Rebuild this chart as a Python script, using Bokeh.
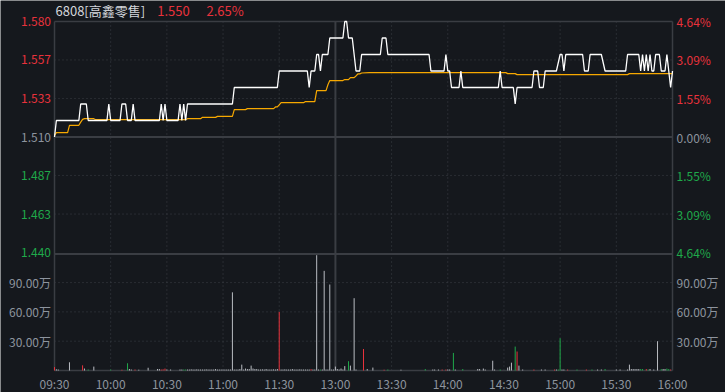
from bokeh.plotting import figure
from bokeh.models import Range1d, ColumnDataSource
from bokeh.core.properties import value
from bokeh.embed import file_html
from bokeh.resources import INLINE

# ---------------- data ----------------
stock_title = "6808[高鑫零售]"
last_price = "1.550"
last_change = "2.65%"
prev_close = 1.510

time_ticks = [0, 30, 60, 90, 120, 150, 180, 210, 240, 270, 300, 330]
time_labels = ["09:30", "10:00", "10:30", "11:00", "11:30", "13:00",
               "13:30", "14:00", "14:30", "15:00", "15:30", "16:00"]

price_ticks = [1.580, 1.5567, 1.5333, 1.510, 1.4867, 1.4633, 1.440]
price_tick_labels = ["1.580", "1.557", "1.533", "1.510", "1.487", "1.463", "1.440"]
pct_tick_labels = ["4.64%", "3.09%", "1.55%", "0.00%", "1.55%", "3.09%", "4.64%"]
tick_sides = [1, 1, 1, 0, -1, -1, -1]

vol_ticks = [90, 60, 30]
vol_tick_labels = ["90.00万", "60.00万", "30.00万"]

# minute index (0 = 09:30, 150 = 13:00) and last price
price_min = [0, 1, 13, 14, 17, 18, 28, 29, 30, 35, 36, 38, 39, 41, 42, 43, 56, 57, 58, 59, 60,
             66, 67, 68, 69, 70, 71, 95, 96, 119, 120, 135, 136, 137, 139, 140, 141, 142, 143,
             146, 147, 154, 155, 156, 157, 159, 160, 161, 163, 164, 174, 175, 177, 178, 200,
             201, 208, 209, 210, 211, 212, 216, 217, 218, 237, 238, 239, 245, 246, 247, 255,
             256, 258, 259, 261, 262, 268, 270, 271, 272, 273, 282, 283, 285, 286, 292, 294,
             305, 306, 312, 313, 314, 315, 316, 317, 318, 319, 320, 321, 323, 324, 326, 327,
             328, 329, 330]
price_val = [1.51, 1.52, 1.52, 1.53, 1.53, 1.52, 1.52, 1.53, 1.52, 1.52, 1.53, 1.53, 1.52, 1.52,
             1.53, 1.52, 1.52, 1.53, 1.52, 1.53, 1.52, 1.52, 1.53, 1.52, 1.53, 1.52, 1.53, 1.53,
             1.54, 1.54, 1.55, 1.55, 1.54, 1.55, 1.55, 1.56, 1.56, 1.55, 1.56, 1.56, 1.57, 1.57,
             1.58, 1.58, 1.57, 1.57, 1.56, 1.55, 1.55, 1.56, 1.56, 1.57, 1.57, 1.56, 1.56, 1.55,
             1.55, 1.56, 1.55, 1.55, 1.54, 1.54, 1.55, 1.54, 1.54, 1.55, 1.54, 1.54, 1.53, 1.54,
             1.54, 1.55, 1.55, 1.54, 1.54, 1.55, 1.55, 1.56, 1.56, 1.55, 1.56, 1.56, 1.55, 1.55,
             1.56, 1.56, 1.55, 1.55, 1.56, 1.56, 1.55, 1.56, 1.55, 1.56, 1.55, 1.56, 1.55, 1.55,
             1.56, 1.56, 1.55, 1.55, 1.56, 1.55, 1.54, 1.55]

# average price line
avg_min = [0, 1, 7, 8, 13, 14, 15, 16, 21, 22, 70, 71, 78, 79, 86, 87, 95, 96, 102, 103, 117,
           118, 119, 120, 121, 133, 134, 139, 140, 145, 146, 147, 154, 155, 157, 158, 160,
           161, 162, 163, 164, 168, 241, 242, 246, 247, 306, 307, 330]
avg_val = [1.5110, 1.5127, 1.5127, 1.5171, 1.5171, 1.5190, 1.5207, 1.5211, 1.5211, 1.5205,
           1.5205, 1.5211, 1.5211, 1.5219, 1.5219, 1.5225, 1.5225, 1.5266, 1.5266, 1.5272,
           1.5272, 1.5282, 1.5282, 1.5295, 1.5308, 1.5308, 1.5315, 1.5315, 1.5381, 1.5381,
           1.5417, 1.5442, 1.5442, 1.5448, 1.5448, 1.5460, 1.5460, 1.5470, 1.5482, 1.5482,
           1.5488, 1.5490, 1.5490, 1.5484, 1.5484, 1.5478, 1.5478, 1.5484, 1.5484]

# volume per minute (in 万 shares) and tick direction (1 up, -1 down, 0 flat)
vol_min = [0, 1, 2, 8, 15, 16, 18, 21, 30, 36, 39, 40, 41, 43, 45, 50, 55, 56, 57, 58, 59, 60,
           62, 67, 68, 69, 70, 71, 72, 73, 74, 75, 76, 77, 78, 79, 80, 81, 82, 83, 84, 85, 86,
           87, 88, 89, 90, 91, 92, 93, 94, 95, 96, 97, 98, 99, 100, 101, 102, 103, 104, 105,
           106, 107, 108, 109, 110, 111, 112, 113, 114, 115, 116, 117, 118, 119, 120, 121, 122,
           123, 124, 125, 126, 127, 128, 129, 130, 131, 132, 133, 134, 135, 136, 137, 138, 139,
           140, 141, 142, 143, 144, 145, 146, 147, 148, 149, 150, 151, 152, 153, 154, 155, 157,
           158, 160, 161, 165, 167, 170, 176, 178, 185, 198, 202, 203, 205, 207, 209, 210, 211,
           213, 214, 218, 226, 227, 229, 230, 234, 235, 238, 242, 243, 244, 246, 247, 248, 250,
           256, 260, 262, 267, 268, 269, 270, 271, 272, 274, 279, 284, 287, 290, 292, 294, 300,
           302, 306, 307, 308, 309, 310, 311, 312, 313, 314, 316, 317, 318, 320, 322, 324, 325,
           326, 327, 328, 329, 330]
vol_val = [3.5, 1.2, 1.0, 8.4, 5.3, 2.0, 1.0, 4.0, 1.0, 0.8, 7.4, 1.5, 1.0, 1.0, 0.8, 2.8, 1.5,
           1.5, 1.0, 1.2, 2.0, 1.0, 1.0, 1.0, 1.0, 1.0, 1.0, 1.0, 1.0, 1.2, 1.0, 1.0, 1.2, 1.0,
           1.0, 1.0, 1.0, 1.2, 1.0, 1.0, 1.0, 1.0, 1.5, 1.0, 1.0, 1.0, 1.0, 1.0, 1.0, 1.0, 1.0,
           80.0, 1.0, 1.0, 1.0, 1.5, 6.0, 1.0, 2.0, 1.5, 1.5, 5.0, 2.0, 1.5, 1.5, 1.0, 1.0, 1.2,
           1.0, 1.5, 1.0, 1.0, 1.0, 1.2, 1.0, 1.5, 60.0, 1.0, 1.0, 1.2, 1.0, 1.0, 1.0, 1.5, 1.0,
           1.0, 1.0, 1.2, 1.0, 1.0, 1.0, 1.0, 1.0, 1.5, 1.0, 1.0, 118.0, 1.0, 1.0, 1.0, 102.0, 1.0,
           1.0, 88.0, 1.0, 1.0, 4.0, 1.5, 1.0, 2.0, 1.0, 4.5, 9.5, 5.0, 74.0, 1.0, 22.0, 1.5,
           3.0, 0.8, 1.0, 0.8, 1.5, 1.0, 1.0, 1.0, 1.0, 1.0, 1.0, 1.0, 18.0, 1.0, 1.5, 1.5, 1.5,
           2.0, 1.0, 10.0, 1.0, 1.0, 3.0, 4.0, 8.0, 24.5, 19.4, 5.0, 1.0, 1.0, 1.0, 1.0, 1.0, 1.0,
           1.0, 33.0, 1.0, 1.0, 1.0, 1.0, 1.0, 1.0, 1.0, 1.0, 1.5, 1.0, 1.0, 1.0, 6.0, 1.5, 1.5,
           1.5, 1.5, 1.5, 1.5, 1.5, 1.5, 1.0, 1.5, 1.0, 30.0, 1.5, 1.5, 1.5, 2.0, 1.5, 1.0, 22.0]
vol_side = [1, 0, 0, 0, 1, 0, -1, 0, -1, 1, -1, 0, 0, 1, 0, 0, 0, 0, 1, 1, 1, 0,
            0, 0, 0, -1, -1, 0, 0, 0, 0, 0, 0, 0, 0, 0, 0, 0, 0, 0, 0, 0, 0,
            0, 0, 0, 0, 0, 0, 0, 0, 0, 0, 0, 0, 0, 0, 0, 0, 0, 0, 0,
            0, 0, 0, 0, 0, 0, 0, 0, 0, 0, 0, 0, 0, 0, 1, 0, 0,
            0, 0, 0, 0, 0, 0, 0, 0, 0, 0, 0, 0, 0, 0, 1, 0, 0,
            0, 0, -1, 0, 0, 0, 0, 0, 0, 0, 0, 0, 0, 0, 0, 0, -1,
            0, 0, 0, 1, 0, 0, 1, -1, 0, -1, 0, 0, 0, 1, 1, 0, 0,
            -1, 0, -1, 0, 0, 0, 0, 0, 0, -1, 0, 0, 0, -1, 1, 0, 0,
            1, 0, 0, 1, 0, -1, -1, 0, 0, 1, -1, 1, -1, 0, 0, -1, 0,
            0, 0, 0, 0, 0, 0, 0, 0, -1, -1, 1, -1, 0, 0, 0, -1,
            0, 0, -1, -1, 1]

# ---------------- style / layout ----------------
BG = "#15181d"
BORDER = "#3a3d43"
GRID = "#3c4047"
RED = "#e8323c"
GREEN = "#1fa94a"
GRAY = "#8d949e"
WHITE = "#ffffff"
BAR_FLAT = "#b9bcc2"
ORANGE = "#f7a800"
FONT = "Noto Sans CJK SC"

W, H = 725, 392
LEFT, RIGHT, TOP, BOTTOM = 54, 672, 21, 370      # chart box in pixels
PX_MIN = (RIGHT - LEFT) / 330.0                   # pixels per minute
PX_PRICE = 1650.0                                 # pixels per 1.0 of price
PX_VOL = 0.977                                    # pixels per 万

P_TOP = price_ticks[0]
P_BOTTOM = P_TOP - (BOTTOM - TOP) / PX_PRICE      # price value at chart bottom

side_color = {1: RED, -1: GREEN, 0: GRAY}
bar_color = {1: RED, -1: GREEN, 0: BAR_FLAT}

p = figure(width=W, height=H, output_backend="svg", toolbar_location=None,
           x_range=Range1d(-LEFT / PX_MIN, 330 + (W - RIGHT) / PX_MIN),
           y_range=Range1d(P_TOP - (H - TOP) / PX_PRICE, P_TOP + TOP / PX_PRICE),
           x_axis_location=None, y_axis_location=None,
           min_border=0, background_fill_color=BG, border_fill_color=BG,
           outline_line_color=None)
p.xgrid.visible = False
p.ygrid.visible = False
p.extra_y_ranges = {"vol": Range1d(-(H - BOTTOM) / PX_VOL, BOTTOM / PX_VOL)}

# dotted grid lines
vx = [t for t in time_ticks[1:-1] if t != 150]
p.segment(x0=vx, y0=[P_TOP] * len(vx), x1=vx, y1=[P_BOTTOM] * len(vx),
          line_color=GRID, line_dash="1 3", line_width=1)
hy = [t for t, s in zip(price_ticks, tick_sides) if s != 0][1:-1]
p.segment(x0=[0] * len(hy), y0=hy, x1=[330] * len(hy), y1=hy,
          line_color=GRID, line_dash="1 3", line_width=1)
p.segment(x0=[0] * len(vol_ticks), y0=vol_ticks, x1=[330] * len(vol_ticks), y1=vol_ticks,
          line_color=GRID, line_dash="1 3", line_width=1, y_range_name="vol")

# solid lines: box, previous close, panel separator, lunch break
p.segment(x0=[0, 0, 330], y0=[P_TOP, P_TOP, P_TOP],
          x1=[330, 0, 330], y1=[P_TOP, P_BOTTOM, P_BOTTOM],
          line_color=BORDER, line_width=1.5)
p.segment(x0=[150], y0=[P_TOP], x1=[150], y1=[P_BOTTOM], line_color=BORDER, line_width=2)
p.segment(x0=[0], y0=[0], x1=[330], y1=[0], line_color=BORDER, line_width=1.5,
          y_range_name="vol")
sep = price_ticks[-1] - 1.5 / PX_PRICE
p.segment(x0=[0, 0], y0=[prev_close, sep], x1=[330, 330], y1=[prev_close, sep],
          line_color=BORDER, line_width=2)

# volume bars
vsrc = ColumnDataSource(dict(x=vol_min, top=vol_val, c=[bar_color[s] for s in vol_side]))
p.segment(x0="x", y0=0, x1="x", y1="top", line_color="c", line_width=1,
          source=vsrc, y_range_name="vol")

# price lines
p.line(avg_min, avg_val, line_color=ORANGE, line_width=1.2)
p.line(price_min, price_val, line_color=WHITE, line_width=1.3)

# y tick labels
lx = -3.5 / PX_MIN
rx = 330 + 4.0 / PX_MIN
n = len(price_ticks)
psrc = ColumnDataSource(dict(xl=[lx] * n, xr=[rx] * n, y=price_ticks,
                             tl=price_tick_labels, tr=pct_tick_labels,
                             c=[side_color[s] for s in tick_sides]))
p.text(x="xl", y="y", text="tl", text_color="c", source=psrc, text_align="right",
       text_baseline="middle", text_font=value(FONT), text_font_size="12px")
p.text(x="xr", y="y", text="tr", text_color="c", source=psrc, text_align="left",
       text_baseline="middle", text_font=value(FONT), text_font_size="12px")
m = len(vol_ticks)
vlsrc = ColumnDataSource(dict(xl=[lx] * m, xr=[rx] * m, y=vol_ticks, t=vol_tick_labels))
p.text(x="xl", y="y", text="t", source=vlsrc, y_range_name="vol", text_color=GRAY,
       text_align="right", text_baseline="middle", text_font=value(FONT),
       text_font_size="12px")
p.text(x="xr", y="y", text="t", source=vlsrc, y_range_name="vol", text_color=GRAY,
       text_align="left", text_baseline="middle", text_font=value(FONT),
       text_font_size="12px")

# time labels
ty = -13.0 / PX_VOL
p.text(x=time_ticks, y=[ty] * len(time_ticks), text=time_labels, y_range_name="vol",
       text_color=GRAY, text_align="center", text_baseline="middle",
       text_font=value(FONT), text_font_size="12px")

# header
hy_ = P_TOP + 11.0 / PX_PRICE
p.text(x=[1.0 / PX_MIN], y=[hy_], text=[stock_title], text_color="#d3d6db",
       text_baseline="middle", text_font=value(FONT), text_font_size="13px")
p.text(x=[102.7 / PX_MIN, 152.0 / PX_MIN], y=[hy_, hy_], text=[last_price, last_change],
       text_color=RED, text_baseline="middle", text_font=value(FONT), text_font_size="13px")

open("out.html", "w").write(file_html(p, INLINE))
